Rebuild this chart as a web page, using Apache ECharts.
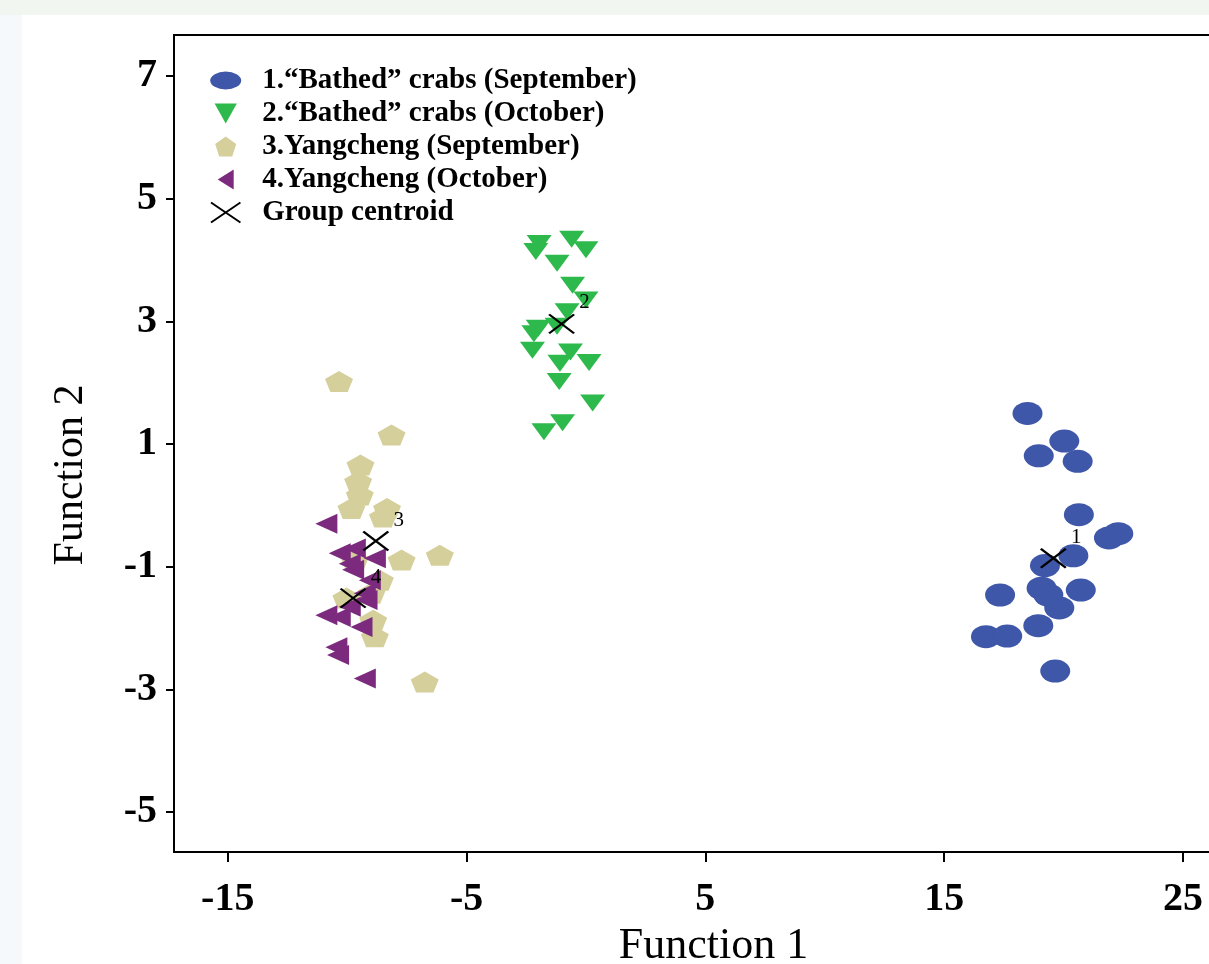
<!DOCTYPE html>
<html><head><meta charset="utf-8">
<script src="https://cdn.jsdelivr.net/npm/echarts@6/dist/echarts.min.js"></script>
<style>html,body{margin:0;padding:0;background:#fff}#c{width:1209px;height:964px}</style>
</head><body><div id="c"></div>
<script>
// Data
const xTicks = [-15, -5, 5, 15, 25];
const yTicks = [-5, -3, -1, 1, 3, 5, 7];
const seriesNames = ['1.\u201cBathed\u201d crabs (September)', '2.\u201cBathed\u201d crabs (October)', '3.Yangcheng (September)', '4.Yangcheng (October)', 'Group centroid'];
const bathedSep = [[18.49,1.50],[20.03,1.05],[18.96,0.81],[20.59,0.72],[20.64,-0.15],[21.90,-0.53],[22.29,-0.46],[20.41,-0.82],[19.22,-0.98],[17.34,-1.46],[19.08,-1.35],[19.36,-1.46],[19.82,-1.67],[20.72,-1.38],[18.94,-1.96],[16.75,-2.14],[17.64,-2.13],[19.65,-2.70]];
const bathedOct = [[-1.96,4.27],[-2.10,4.14],[-0.60,4.34],[0.00,4.17],[-1.21,3.95],[-0.56,3.59],[0.00,3.35],[-0.79,3.16],[-2.00,2.89],[-2.18,2.80],[-1.21,2.92],[-2.24,2.53],[-0.65,2.50],[-1.09,2.32],[0.13,2.33],[-1.12,2.02],[0.28,1.67],[-0.98,1.35],[-1.76,1.20]];
const yangSep = [[-10.34,2.02],[-8.14,1.15],[-9.44,0.66],[-9.54,0.39],[-9.47,0.17],[-9.82,-0.05],[-8.33,-0.05],[-8.50,-0.19],[-7.72,-0.89],[-6.12,-0.81],[-8.63,-1.22],[-8.98,-1.43],[-10.03,-1.51],[-8.91,-1.87],[-8.84,-2.14],[-6.75,-2.88],[-9.68,-0.89]];
const yangOct = [[-10.87,-0.30],[-10.31,-0.78],[-9.68,-0.70],[-8.84,-0.86],[-9.89,-0.95],[-9.75,-1.05],[-9.05,-1.22],[-9.26,-1.43],[-9.19,-1.54],[-10.87,-1.79],[-10.31,-1.82],[-9.40,-1.98],[-10.45,-2.31],[-10.38,-2.44],[-9.26,-2.82],[-9.89,-1.65]];
const centroids = [[19.57,-0.86,'1'],[-1.02,2.96,'2'],[-8.80,-0.58,'3'],[-9.75,-1.51,'4']];

const colors = ['#3F57A9', '#2DB94B', '#D4CF9B', '#7B2A7E', '#000'];
const ELLIPSE = 'path://M0,9A15.5,9,0,1,1,31,9A15.5,9,0,1,1,0,9Z';
const TRI_DOWN = 'path://M0,0L20,0L10,18Z';
const PENTA = 'path://M95,0L190,69L154,181L36,181L0,69Z';
const TRI_LEFT = 'path://M0,10L16,0L16,20Z';
const XMARK = 'path://M0,0L25,17M25,0L0,17';

const serif = 'Liberation Serif, Times New Roman, serif';
const chart = echarts.init(document.getElementById('c'), null, {renderer: 'canvas'});
chart.setOption({
  animation: false,
  backgroundColor: '#ffffff',
  graphic: [
    {type: 'rect', left: 0, top: 0, shape: {width: 1209, height: 15}, style: {fill: '#F1F6F0'}, silent: true, z: -10},
    {type: 'rect', left: 0, top: 15, shape: {width: 22, height: 949}, style: {fill: '#F6F9FC'}, silent: true, z: -10}
  ],
  grid: {left: 174, right: -6, top: 35, bottom: 112, outerBoundsMode: 'none', containLabel: false,
    show: true, borderColor: '#000', borderWidth: 2, backgroundColor: 'transparent'},
  legend: {
    orient: 'vertical', left: 205, top: 61, itemGap: 4,
    itemWidth: 31, itemHeight: 20, symbolKeepAspect: true,
    textStyle: {fontFamily: serif, fontWeight: 'bold', fontSize: 29, color: '#000', padding: [0, 0, 0, 16]},
    data: [
      {name: seriesNames[0], icon: ELLIPSE},
      {name: seriesNames[1], icon: TRI_DOWN},
      {name: seriesNames[2], icon: PENTA},
      {name: seriesNames[3], icon: TRI_LEFT},
      {name: seriesNames[4], icon: XMARK}
    ]
  },
  xAxis: {
    type: 'value', min: -17.25, max: 26.34,
    axisLine: {show: true, onZero: false, lineStyle: {color: '#000', width: 2}},
    axisTick: {show: true, customValues: xTicks, length: 10, lineStyle: {color: '#000', width: 2}},
    axisLabel: {customValues: xTicks, fontFamily: serif, fontWeight: 'bold', fontSize: 40, color: '#000', margin: 28},
    splitLine: {show: false},
    name: 'Function 1', nameLocation: 'middle', nameGap: 64,
    nameTextStyle: {fontFamily: serif, fontSize: 44, color: '#000', padding: [0, 0, 0, 38]}
  },
  yAxis: {
    type: 'value', min: -5.65, max: 7.67,
    axisLine: {show: true, onZero: false, lineStyle: {color: '#000', width: 2}},
    axisTick: {show: true, customValues: yTicks, length: 8, lineStyle: {color: '#000', width: 2}},
    axisLabel: {customValues: yTicks, fontFamily: serif, fontWeight: 'bold', fontSize: 40, color: '#000', margin: 17},
    splitLine: {show: false},
    name: 'Function 2', nameLocation: 'middle', nameGap: 82,
    nameTextStyle: {fontFamily: serif, fontSize: 42, color: '#000', padding: [0, 63, 0, 0]}
  },
  series: [
    {name: seriesNames[0], type: 'scatter', data: bathedSep, symbol: 'circle', symbolSize: [30, 23], itemStyle: {color: colors[0], opacity: 1}},
    {name: seriesNames[1], type: 'scatter', data: bathedOct, symbol: TRI_DOWN, symbolSize: [25, 17], itemStyle: {color: colors[1], opacity: 1}},
    {name: seriesNames[2], type: 'scatter', data: yangSep, symbol: PENTA, symbolSize: [28, 21], itemStyle: {color: colors[2], opacity: 1}},
    {name: seriesNames[3], type: 'scatter', data: yangOct, symbol: TRI_LEFT, symbolSize: [22, 20], itemStyle: {color: colors[3], opacity: 1}},
    {name: seriesNames[4], type: 'scatter', data: centroids, symbol: XMARK, symbolSize: [25, 19],
      itemStyle: {color: 'rgba(0,0,0,0)', borderColor: '#000', borderWidth: 2.2, opacity: 1},
      label: {show: true, position: 'inside', offset: [23, -21], formatter: p => p.value[2], fontFamily: serif, fontSize: 21, color: '#000'},
      z: 5}
  ]
});
</script>
</body></html>
